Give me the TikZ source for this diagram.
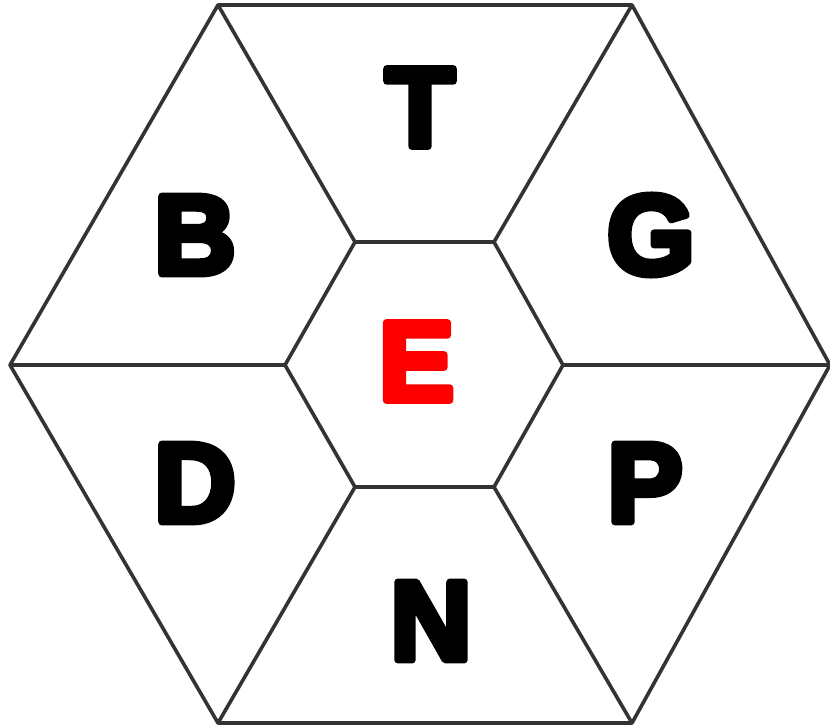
\documentclass[tikz,border=0pt]{standalone}
\usepackage{fontspec}
\setmainfont{Liberation Sans}
\definecolor{edgegray}{HTML}{333333}
\newcommand{\rndtxt}[1]{\special{pdf:literal 2 Tr 1 j 1 J 7 w}#1\special{pdf:literal 0 Tr}}
\begin{document}
\begin{tikzpicture}[x=1pt,y=-1pt,
  edge/.style={draw=edgegray, line width=3.6pt, line join=round},
  letter/.style={inner sep=0pt, font=\fontsize{113}{113}\selectfont\bfseries, text=black},
]
\useasboundingbox (0,0) rectangle (830,728);
\coordinate (O1) at (218,5);
\coordinate (O2) at (632,5);
\coordinate (O3) at (830,365);
\coordinate (O4) at (632,723);
\coordinate (O5) at (218,723);
\coordinate (O6) at (10,365);
\coordinate (I1) at (355,242);
\coordinate (I2) at (494,242);
\coordinate (I3) at (563,365);
\coordinate (I4) at (494,487);
\coordinate (I5) at (355,487);
\coordinate (I6) at (285,365);
\draw[edge] (O1) -- (O2) -- (O3) -- (O4) -- (O5) -- (O6) -- cycle;
\draw[edge] (I1) -- (I2) -- (I3) -- (I4) -- (I5) -- (I6) -- cycle;
\foreach \i in {1,...,6} \draw[edge] (I\i) -- (O\i);
\node[letter] (T) at (420,107.5) {\rndtxt{T}};
\node[letter] (G) at (651,235) {\rndtxt{G}};
\node[letter] (P) at (645,483) {\rndtxt{P}};
\node[letter] (N) at (431,621) {\rndtxt{N}};
\node[letter] (D) at (195,483) {\rndtxt{D}};
\node[letter] (B) at (195,235) {\rndtxt{B}};
\node[letter, text=red] (E) at (416.5,361.5) {\rndtxt{E}};
\end{tikzpicture}
\end{document}
